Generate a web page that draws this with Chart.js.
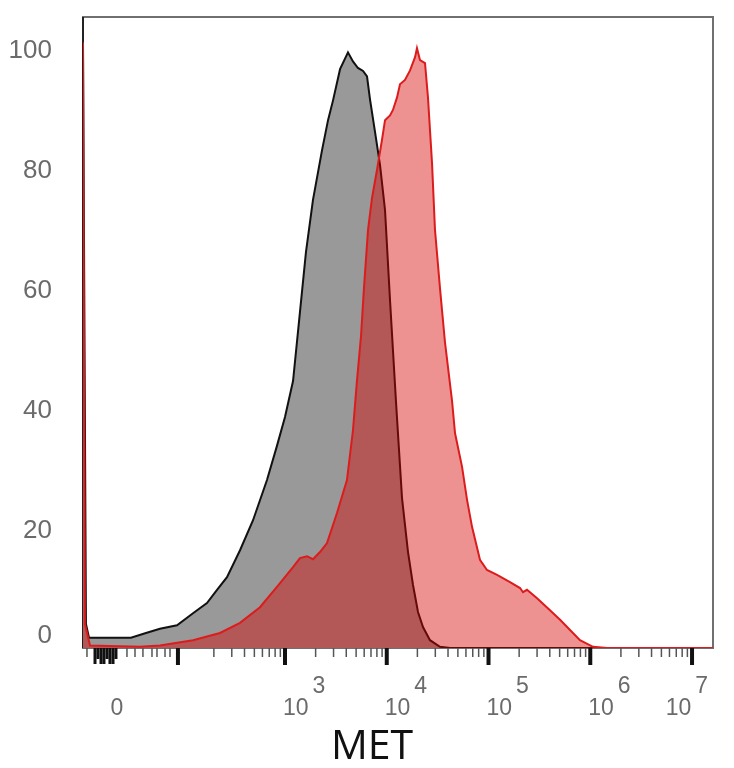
<!DOCTYPE html>
<html>
<head>
<meta charset="utf-8">
<script src="https://cdn.jsdelivr.net/npm/chart.js@4.4.1/dist/chart.umd.min.js"></script>
<style>
  body { margin: 0; background: #fff; }
  canvas { display: block; }
</style>
</head>
<body>
<canvas id="grafico" width="734" height="768"></canvas>
<script>
// posicion en decadas del eje MET (biexponencial) y conteo normalizado al modo
const posGris = [1.015, 1.044, 1.074, 1.486, 1.634, 1.771, 1.939, 2.096, 2.233, 2.332, 2.430, 2.558, 2.686, 2.823, 2.921, 3.000, 3.079, 3.147, 3.206, 3.275, 3.364, 3.423, 3.472, 3.541, 3.619, 3.668, 3.717, 3.767, 3.806, 3.835, 3.885, 3.934, 3.983, 4.032, 4.091, 4.150, 4.209, 4.258, 4.307, 4.356, 4.425, 4.523, 4.622, 7.206]
const conteoGris = [101, 4, 1.7, 1.7, 2.5, 3.2, 3.8, 5.8, 7.5, 9.7, 11.8, 16.3, 21.3, 28, 33.7, 38.5, 44.5, 56, 66, 74.7, 83, 88, 91.3, 96.5, 99.3, 97.8, 96.7, 96.2, 95.3, 91.5, 86, 80.5, 73, 58, 41, 25, 16, 10.5, 6, 3.5, 1.3, 0.2, 0, 0]

const posRojo = [1.015, 1.034, 1.084, 1.575, 1.771, 2.096, 2.361, 2.558, 2.754, 2.921, 3.079, 3.147, 3.216, 3.275, 3.344, 3.413, 3.511, 3.609, 3.668, 3.708, 3.747, 3.776, 3.816, 3.855, 3.904, 3.953, 3.983, 4.032, 4.061, 4.101, 4.130, 4.179, 4.229, 4.278, 4.297, 4.327, 4.376, 4.405, 4.445, 4.474, 4.523, 4.572, 4.641, 4.671, 4.740, 4.789, 4.838, 4.916, 4.985, 5.084, 5.211, 5.310, 5.339, 5.378, 5.477, 5.604, 5.703, 5.801, 5.899, 6.027, 6.165, 7.206]
const conteoRojo = [101, 4, 0.4, 0.2, 0.4, 1.3, 2.5, 4.2, 6.8, 10.2, 13.5, 15, 15.3, 14.8, 16, 17.5, 22.5, 28, 36.3, 44.7, 52, 60, 69.7, 75, 79.7, 84.7, 88, 88.8, 89.7, 91.8, 94, 94.7, 96.3, 98.5, 100, 98, 97.5, 91.8, 80.8, 69.7, 60, 51, 41.3, 35.8, 30.2, 24.7, 20.2, 14.7, 13, 12.2, 11, 10, 9.3, 9.7, 8.3, 6.3, 4.7, 3, 1.3, 0.2, 0, 0]

const yMarcas = [0, 20, 40, 60, 80, 100]

const xMayores = [1.948, 3, 4, 5, 6, 7]
const xCero = [1.133, 1.162, 1.192, 1.221, 1.251, 1.280, 1.310, 1.339]
const xLineales = [1.054, 1.447, 1.526, 1.604, 1.693, 1.742, 1.821, 1.870]
const xEtiquetaPos = [1.348, 3, 4, 5, 6, 7]
const xEtiquetaBase = ['0', '10', '10', '10', '10', '10']
const xEtiquetaExp = ['', '3', '4', '5', '6', '7']

const xMenores = [...xLineales]
for (let dec = 2; dec < 7; dec++) {
  for (let k = 2; k <= 9; k++) xMenores.push(dec + Math.log10(k))
}

const fuente = '"Liberation Sans", Arial, sans-serif'

const ejeMet = {
  id: 'ejeMet',
  beforeDatasetsDraw(chart) {
    const { ctx, chartArea: a } = chart
    ctx.save()
    ctx.strokeStyle = '#707070'
    ctx.lineWidth = 2
    ctx.strokeRect(a.left, a.top, a.right - a.left, a.bottom - a.top)
    ctx.strokeStyle = '#222'
    ctx.beginPath()
    ctx.moveTo(a.left, a.top)
    ctx.lineTo(a.left, a.bottom)
    ctx.stroke()
    ctx.restore()
  },
  afterDraw(chart) {
    const { ctx, chartArea: a } = chart
    const x = chart.scales.x
    ctx.save()
    const marca = (v, largo, ancho, color) => {
      const px = x.getPixelForValue(v)
      ctx.strokeStyle = color
      ctx.lineWidth = ancho
      ctx.beginPath()
      ctx.moveTo(px, a.bottom)
      ctx.lineTo(px, a.bottom + largo)
      ctx.stroke()
    }
    xMenores.forEach(v => marca(v, 9, 1.5, '#555'))
    xCero.forEach((v, i) => marca(v, i % 3 === 1 ? 11 : 16, 3, '#111'))
    xMayores.forEach(v => marca(v, 17, 4, '#111'))

    ctx.font = '23px ' + fuente
    ctx.fillStyle = '#6b6b6b'
    ctx.textBaseline = 'alphabetic'
    xEtiquetaPos.forEach((v, i) => {
      const px = x.getPixelForValue(v)
      const base = xEtiquetaBase[i]
      const exp = xEtiquetaExp[i]
      if (!exp) {
        ctx.textAlign = 'center'
        ctx.fillText(base, px, a.bottom + 67)
        return
      }
      const wb = ctx.measureText(base).width
      const we = ctx.measureText(exp).width
      let izq = px - 2
      if (izq + wb + 4 + we > a.right - 5) izq = a.right - 5 - wb - 4 - we
      ctx.textAlign = 'left'
      ctx.fillText(base, izq, a.bottom + 67)
      ctx.fillText(exp, izq + wb + 4, a.bottom + 45)
    })

    ctx.font = '41px "Open Sans", sans-serif'
    ctx.fillStyle = '#111'
    ctx.textAlign = 'center'
    ctx.fillText('MET', (a.left + a.right) / 2 - 26, a.bottom + 111)
    ctx.restore()
  }
}

const ctx = document.getElementById('grafico').getContext('2d')

const grafico = new Chart(ctx, {
  type: 'line',
  data: {
    datasets: [
      {
        label: 'Control',
        data: posGris.map((p, i) => ({ x: p, y: conteoGris[i] })),
        borderColor: '#111',
        backgroundColor: '#999999',
        borderWidth: 2,
        fill: 'origin',
        pointRadius: 0,
        tension: 0,
        order: 2
      },
      {
        label: 'MET',
        data: posRojo.map((p, i) => ({ x: p, y: conteoRojo[i] })),
        borderColor: '#dc1c1c',
        backgroundColor: 'rgba(215, 0, 0, 0.43)',
        borderWidth: 2,
        fill: 'origin',
        pointRadius: 0,
        tension: 0,
        order: 1
      }
    ]
  },
  options: {
    responsive: false,
    animation: false,
    layout: { padding: { top: 17, right: 21, left: 0, bottom: 0 } },
    plugins: {
      legend: { display: false },
      tooltip: { enabled: false }
    },
    scales: {
      x: {
        type: 'linear',
        min: 1.015,
        max: 7.206,
        grid: { display: false },
        border: { display: false },
        ticks: { display: false },
        afterFit: (escala) => {
          escala.height = 120
          escala.paddingLeft = 0
          escala.paddingRight = 0
        }
      },
      y: {
        type: 'linear',
        min: 0,
        max: 105.2,
        grid: { display: false },
        border: { display: false },
        afterBuildTicks: (escala) => { escala.ticks = yMarcas.map(v => ({ value: v })) },
        afterFit: (escala) => {
          escala.width = 83
          escala.paddingTop = 0
          escala.paddingBottom = 0
        },
        ticks: {
          color: '#6b6b6b',
          padding: 23,
          labelOffset: 3,
          font: { family: fuente, size: 26 },
          callback: (v) => v === 0 ? ['0', ''] : String(v)
        }
      }
    }
  },
  plugins: [ejeMet]
})
</script>
</body>
</html>
